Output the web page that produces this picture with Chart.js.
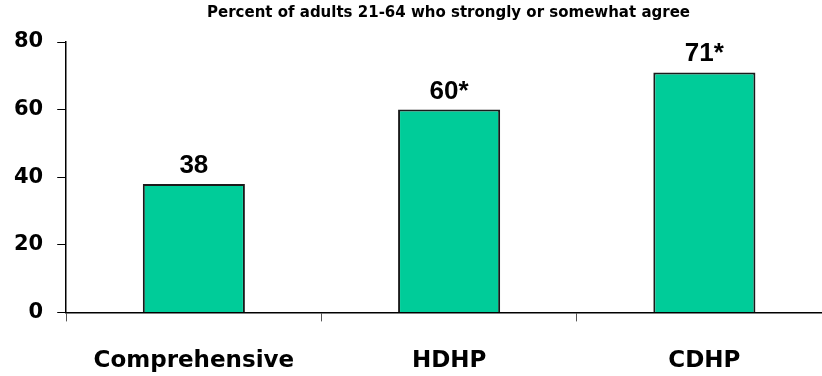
<!DOCTYPE html>
<html>
<head>
<meta charset="utf-8">
<script src="https://cdn.jsdelivr.net/npm/chart.js"></script>
<style>
  html, body { margin: 0; padding: 0; background: #fff; overflow: hidden; }
  #wrap { position: relative; width: 834px; height: 376px; }
  #title {
    position: absolute; left: 65px; width: 767px; top: 5px;
    font: bold 15px "DejaVu Sans", sans-serif;
    line-height: 14px; text-align: center;
    color: #000; white-space: nowrap;
  }
</style>
</head>
<body>
<div id="wrap">
  <div id="title">Percent of adults 21-64 who strongly or somewhat agree</div>
  <canvas id="chart" width="834" height="376"></canvas>
</div>
<script>
// Datos del gráfico
const categories = ['Comprehensive', 'HDHP', 'CDHP'];
const values = [38, 60, 71];
const markers = ['', '*', '*'];
const yTicks = [0, 20, 40, 60, 80];

// Etiquetas encima de cada barra
const barLabels = {
    id: 'barLabels',
    afterDatasetsDraw(chart) {
        const ctx = chart.ctx;
        const meta = chart.getDatasetMeta(0);
        ctx.save();
        ctx.font = 'bold 26px "Liberation Sans", Arial, sans-serif';
        ctx.fillStyle = '#000';
        ctx.textAlign = 'center';
        ctx.textBaseline = 'alphabetic';
        meta.data.forEach(function(bar, i) {
            ctx.fillText(values[i] + markers[i], bar.x, bar.y - 11);
        });
        ctx.restore();
    }
};

new Chart(document.getElementById('chart'), {
    type: 'bar',
    data: {
        labels: categories,
        datasets: [{
            data: values,
            backgroundColor: '#00CC99',
            borderColor: '#1a1a1a',
            borderWidth: 2,
            borderSkipped: 'bottom',
            categoryPercentage: 1,
            barPercentage: 0.4
        }]
    },
    options: {
        responsive: false,
        animation: false,
        layout: { padding: { top: 42, left: 0, right: 2, bottom: -25 } },
        plugins: {
            legend: { display: false },
            tooltip: { enabled: false }
        },
        scales: {
            x: {
                grid: {
                    drawOnChartArea: false,
                    drawTicks: true,
                    tickLength: 9,
                    color: '#555',
                    offset: true
                },
                border: { display: true, color: '#000', width: 1.5 },
                ticks: {
                    color: '#000',
                    padding: 26,
                    font: { family: '"DejaVu Sans", sans-serif', weight: 'bold', size: 23 }
                }
            },
            y: {
                min: 0,
                max: 80,
                afterBuildTicks: function(axis) {
                    axis.ticks = yTicks.map(function(v) { return { value: v }; });
                },
                grid: {
                    drawOnChartArea: false,
                    drawTicks: true,
                    tickLength: 9,
                    color: '#000'
                },
                border: { display: true, color: '#000', width: 1.5 },
                ticks: {
                    color: '#000',
                    padding: 14,
                    font: { family: '"DejaVu Sans", sans-serif', weight: 'bold', size: 21 }
                }
            }
        }
    },
    plugins: [barLabels]
});
</script>
</body>
</html>
